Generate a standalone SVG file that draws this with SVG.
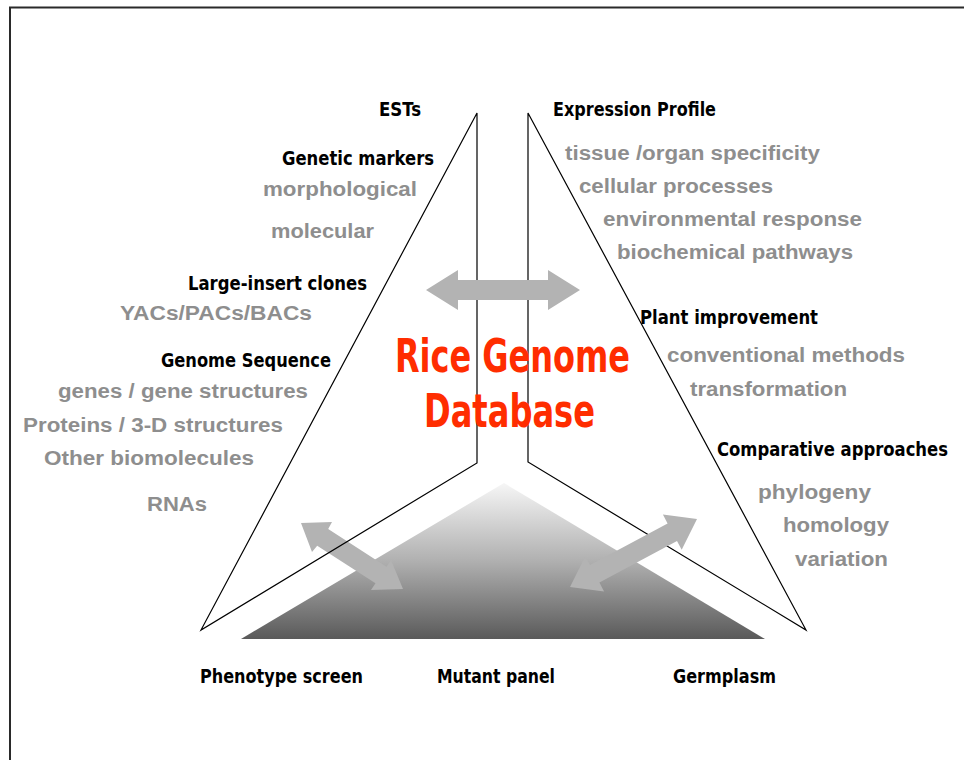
<svg xmlns="http://www.w3.org/2000/svg" width="964" height="760" viewBox="0 0 964 760">
<defs>
<linearGradient id="pyr" x1="0" y1="0" x2="0" y2="1">
<stop offset="0" stop-color="#f6f6f6"/>
<stop offset="0.5" stop-color="#b0b0b0"/>
<stop offset="1" stop-color="#5a5a5a"/>
</linearGradient>
<style>
.blk{font-family:"Liberation Sans Narrow","DejaVu Sans Condensed","Arial Narrow",sans-serif;font-weight:bold;font-size:19px;fill:#000}
.gry{font-family:"Liberation Sans","Arial",sans-serif;font-weight:bold;font-size:20px;fill:#8e8e8e}
.ttl{font-family:"Liberation Sans Narrow","DejaVu Sans Condensed","Arial Narrow",sans-serif;font-weight:bold;font-size:36px;fill:#ff2d00}
.ln{fill:none;stroke:#000;stroke-width:1.2;stroke-linejoin:miter}
.arw{fill:#b3b3b3;stroke:none}
</style>
</defs>
<rect x="10" y="7.5" width="1000" height="800" fill="#fff" stroke="#2a2a2a" stroke-width="2"/>

<g id="mutant-pyramid">
<polygon points="504,483 765,639 241,639" fill="url(#pyr)"/>
</g>

<g id="connectors">
<polygon class="arw" points="301,523 332,522 328.2,529.1 386.5,566.7 391,560 403,589 371,590 375.5,583.3 317.2,545.7 312,552"/>
<path class="ln" d="M477,113 L201,630 L477,463 Z"/>
<path class="ln" d="M528,113 L806,630 L528,462 Z"/>
<polygon class="arw" points="697,519 681.7,549.8 677,541 599.4,582.6 604.1,591.4 570,587 585.3,556.2 590,565 667.6,523.4 662.9,514.6"/>
<polygon class="arw" points="426,290 458,270 458,280 548,280 548,270 580,290 548,310 548,300 458,300 458,310"/>
</g>

<g id="left-panel">
<text class="blk" x="379" y="116" textLength="42" lengthAdjust="spacingAndGlyphs">ESTs</text>
<text class="blk" x="282" y="165" textLength="152" lengthAdjust="spacingAndGlyphs">Genetic markers</text>
<text class="gry" x="263" y="196" textLength="154" lengthAdjust="spacingAndGlyphs">morphological</text>
<text class="gry" x="271" y="238" textLength="103" lengthAdjust="spacingAndGlyphs">molecular</text>
<text class="blk" x="188" y="290" textLength="179" lengthAdjust="spacingAndGlyphs">Large-insert clones</text>
<text class="gry" x="120" y="320" textLength="192" lengthAdjust="spacingAndGlyphs">YACs/PACs/BACs</text>
<text class="blk" x="161" y="367" textLength="170" lengthAdjust="spacingAndGlyphs">Genome Sequence</text>
<text class="gry" x="58" y="398" textLength="250" lengthAdjust="spacingAndGlyphs">genes / gene structures</text>
<text class="gry" x="23" y="432" textLength="260" lengthAdjust="spacingAndGlyphs">Proteins / 3-D structures</text>
<text class="gry" x="44" y="465" textLength="210" lengthAdjust="spacingAndGlyphs">Other biomolecules</text>
<text class="gry" x="147" y="511" textLength="60" lengthAdjust="spacingAndGlyphs">RNAs</text>
</g>

<g id="right-panel">
<text class="blk" x="553" y="116" textLength="163" lengthAdjust="spacingAndGlyphs">Expression Profile</text>
<text class="gry" x="565" y="160" textLength="255" lengthAdjust="spacingAndGlyphs">tissue /organ specificity</text>
<text class="gry" x="579" y="193" textLength="194" lengthAdjust="spacingAndGlyphs">cellular processes</text>
<text class="gry" x="603" y="226" textLength="259" lengthAdjust="spacingAndGlyphs">environmental response</text>
<text class="gry" x="617" y="259" textLength="236" lengthAdjust="spacingAndGlyphs">biochemical pathways</text>
<text class="blk" x="640" y="324" textLength="178" lengthAdjust="spacingAndGlyphs">Plant improvement</text>
<text class="gry" x="667" y="362" textLength="238" lengthAdjust="spacingAndGlyphs">conventional methods</text>
<text class="gry" x="690" y="396" textLength="157" lengthAdjust="spacingAndGlyphs">transformation</text>
<text class="blk" x="717" y="456" textLength="231" lengthAdjust="spacingAndGlyphs">Comparative approaches</text>
<text class="gry" x="758" y="499" textLength="113" lengthAdjust="spacingAndGlyphs">phylogeny</text>
<text class="gry" x="783" y="532" textLength="106" lengthAdjust="spacingAndGlyphs">homology</text>
<text class="gry" x="795" y="566" textLength="93" lengthAdjust="spacingAndGlyphs">variation</text>
</g>

<g id="bottom-labels">
<text class="blk" x="200" y="683" textLength="163" lengthAdjust="spacingAndGlyphs">Phenotype screen</text>
<text class="blk" x="437" y="683" textLength="118" lengthAdjust="spacingAndGlyphs">Mutant panel</text>
<text class="blk" x="673" y="683" textLength="103" lengthAdjust="spacingAndGlyphs">Germplasm</text>
</g>

<g id="title">
<text class="ttl" transform="translate(395 372) scale(1 1.3)" x="0" y="0" textLength="235" lengthAdjust="spacingAndGlyphs">Rice Genome</text>
<text class="ttl" transform="translate(424 427) scale(1 1.3)" x="0" y="0" textLength="171" lengthAdjust="spacingAndGlyphs">Database</text>
</g>
</svg>
